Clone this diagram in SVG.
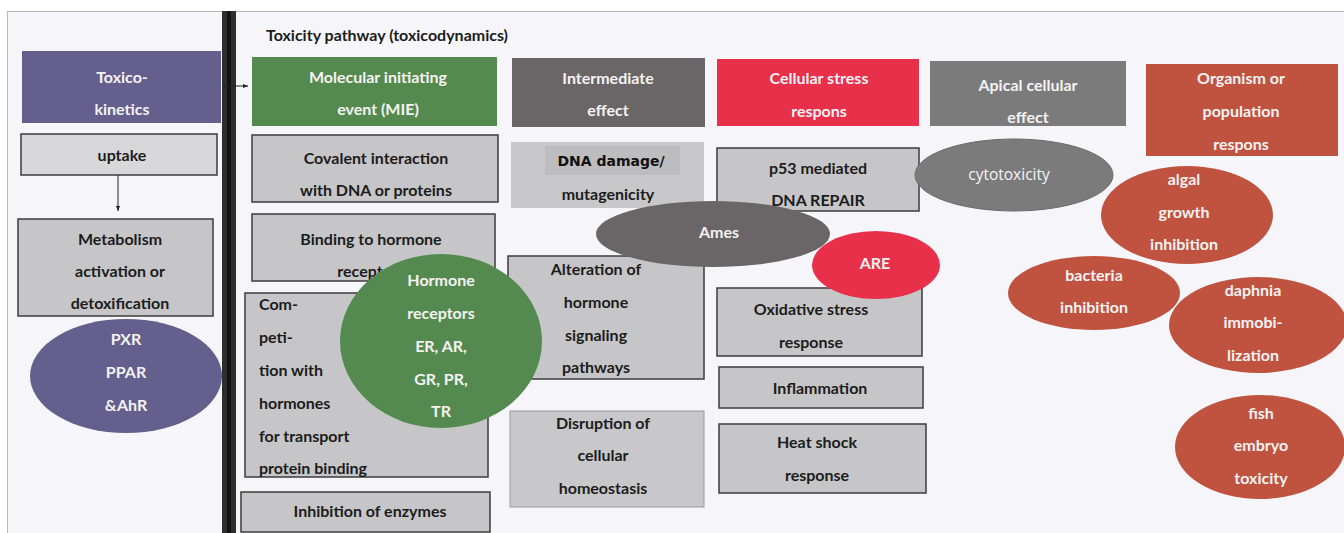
<svg xmlns="http://www.w3.org/2000/svg" width="1344" height="533" viewBox="0 0 1344 533">
  <style>
    .t { font-family: Lato, "Liberation Sans", sans-serif; font-weight: 700; font-size: 16px; text-anchor: middle; dominant-baseline: central; }
    .dk { fill: #1c1c1c; }
    .wt { fill: #f4f2f2; }
    .box { fill: #c6c6c8; stroke: #3c3c3c; stroke-width: 1.5; }
    .boxl { fill: #c8c8ca; stroke: #9a9a9a; stroke-width: 1; }
    .conn { stroke: #222; stroke-width: 1; fill: none; }
  </style>
  <defs>
    <marker id="arr" viewBox="0 0 10 10" refX="10" refY="5" markerWidth="5" markerHeight="5" orient="auto">
      <path d="M0,1 L10,5 L0,9 z" fill="#222"/>
    </marker>
  </defs>

  <!-- canvas -->
  <rect x="0" y="0" width="1344" height="533" fill="#ffffff"/>
  <rect x="7.5" y="11.5" width="1340" height="525" fill="#f6f6fa" stroke="#b8b8bc" stroke-width="1"/>

  <!-- divider between kinetics and dynamics -->
  <g id="divider">
    <rect x="222" y="11" width="14" height="522" fill="#2e2e2e"/>
    <rect x="227" y="11" width="4" height="522" fill="#141414"/>
  </g>

  <text class="t dk" x="387" y="34">Toxicity pathway (toxicodynamics)</text>

  <!-- toxicokinetics column -->
  <g id="toxicokinetics">
    <rect x="22" y="51" width="199" height="72" fill="#645f8c"/>
    <text class="t wt" x="122" y="76">Toxico-</text>
    <text class="t wt" x="122" y="108">kinetics</text>
  </g>
  <g id="uptake">
    <rect x="21" y="134" width="196" height="41" fill="#d8d8da" stroke="#3c3c3c" stroke-width="1.5"/>
    <text class="t dk" x="122" y="154">uptake</text>
  </g>
  <g id="metabolism">
    <rect class="box" x="18" y="219" width="195" height="97"/>
    <text class="t dk" x="120" y="238">Metabolism</text>
    <text class="t dk" x="120" y="270">activation or</text>
    <text class="t dk" x="120" y="302">detoxification</text>
  </g>
  <g id="receptors-pxr">
    <ellipse cx="126" cy="376" rx="96" ry="57" fill="#645f8c"/>
    <text class="t wt" x="126" y="338">PXR</text>
    <text class="t wt" x="126" y="371">PPAR</text>
    <text class="t wt" x="126" y="404">&amp;AhR</text>
  </g>

  <!-- connectors -->
  <g id="connectors">
    <line class="conn" x1="118" y1="175" x2="118" y2="211" marker-end="url(#arr)"/>
    <line class="conn" x1="222" y1="86" x2="248" y2="86" marker-end="url(#arr)"/>
  </g>

  <!-- molecular initiating events -->
  <g id="mie">
    <rect x="252" y="57" width="245" height="69" fill="#548a4f"/>
    <text class="t wt" x="378" y="76">Molecular initiating</text>
    <text class="t wt" x="378" y="108">event (MIE)</text>
  </g>
  <g id="covalent">
    <rect class="box" x="252" y="135" width="246" height="67"/>
    <text class="t dk" x="376" y="157">Covalent interaction</text>
    <text class="t dk" x="376" y="189">with DNA or proteins</text>
  </g>
  <g id="binding">
    <rect class="box" x="252" y="214" width="243" height="67"/>
    <text class="t dk" x="371" y="238">Binding to hormone</text>
    <text class="t dk" x="371" y="270">receptors</text>
  </g>
  <g id="competition">
    <rect class="box" x="245" y="293" width="243" height="184"/>
    <g class="t dk" style="text-anchor:start">
      <text x="259" y="303">Com-</text>
      <text x="259" y="336">peti-</text>
      <text x="259" y="369">tion with</text>
      <text x="259" y="402">hormones</text>
      <text x="259" y="435">for transport</text>
      <text x="259" y="467">protein binding</text>
    </g>
  </g>
  <g id="enzymes">
    <rect class="box" x="241" y="492" width="249" height="40"/>
    <text class="t dk" x="370" y="510">Inhibition of enzymes</text>
  </g>

  <!-- intermediate effects -->
  <g id="intermediate">
    <rect x="512" y="58" width="193" height="69" fill="#6a6566"/>
    <text class="t wt" x="608" y="77">Intermediate</text>
    <text class="t wt" x="608" y="109">effect</text>
  </g>
  <g id="dna-damage">
    <rect x="511" y="142" width="193" height="66" fill="#c8c8ca"/>
    <rect x="545" y="146" width="135" height="29" fill="#bdbdbf"/>
    <text x="611" y="161" style="font-family:'DejaVu Sans',sans-serif;font-weight:700;font-size:14px;text-anchor:middle;dominant-baseline:central;fill:#111">DNA damage/</text>
    <text class="t dk" x="608" y="193">mutagenicity</text>
  </g>
  <g id="alteration">
    <rect class="box" x="508" y="256" width="196" height="123"/>
    <text class="t dk" x="596" y="268">Alteration of</text>
    <text class="t dk" x="596" y="301">hormone</text>
    <text class="t dk" x="596" y="334">signaling</text>
    <text class="t dk" x="596" y="366">pathways</text>
  </g>
  <g id="disruption">
    <rect class="boxl" x="510" y="411" width="194" height="96"/>
    <text class="t dk" x="603" y="422">Disruption of</text>
    <text class="t dk" x="603" y="454">cellular</text>
    <text class="t dk" x="603" y="487">homeostasis</text>
  </g>
  <g id="hormone-receptors">
    <ellipse cx="441" cy="341" rx="101" ry="87" fill="#548a4f"/>
    <text class="t wt" x="441" y="279">Hormone</text>
    <text class="t wt" x="441" y="312">receptors</text>
    <text class="t wt" x="441" y="345">ER, AR,</text>
    <text class="t wt" x="441" y="378">GR, PR,</text>
    <text class="t wt" x="441" y="410">TR</text>
  </g>

  <!-- cellular stress responses -->
  <g id="stress">
    <rect x="717" y="59" width="202" height="67" fill="#e8304a"/>
    <text class="t wt" x="819" y="77">Cellular stress</text>
    <text class="t wt" x="819" y="110">respons</text>
  </g>
  <g id="p53">
    <rect class="box" x="717" y="148" width="202" height="63"/>
    <text class="t dk" x="818" y="167">p53 mediated</text>
    <text class="t dk" x="818" y="199">DNA REPAIR</text>
  </g>
  <g id="ames">
    <ellipse cx="713" cy="234" rx="117" ry="33" fill="#6a6566"/>
    <text class="t wt" x="719" y="231">Ames</text>
  </g>
  <g id="oxidative">
    <rect class="box" x="717" y="288" width="205" height="68"/>
    <text class="t dk" x="811" y="308">Oxidative stress</text>
    <text class="t dk" x="811" y="341">response</text>
  </g>
  <g id="are">
    <ellipse cx="876" cy="265" rx="64" ry="34" fill="#e8304a"/>
    <text class="t wt" x="875" y="262">ARE</text>
  </g>
  <g id="inflammation">
    <rect class="box" x="719" y="367" width="204" height="41"/>
    <text class="t dk" x="820" y="387">Inflammation</text>
  </g>
  <g id="heat-shock">
    <rect class="box" x="719" y="424" width="207" height="69"/>
    <text class="t dk" x="817" y="441">Heat shock</text>
    <text class="t dk" x="817" y="474">response</text>
  </g>

  <!-- apical cellular effects -->
  <g id="apical">
    <rect x="930" y="61" width="196" height="65" fill="#7b7b7b"/>
    <text class="t wt" x="1028" y="84">Apical cellular</text>
    <text class="t wt" x="1028" y="116">effect</text>
  </g>
  <g id="cytotoxicity">
    <ellipse cx="1014" cy="175" rx="99" ry="36" fill="#7b7b7b" stroke="#6a6a6a" stroke-width="1"/>
    <text x="1009" y="174" style="font-family:'Open Sans','Liberation Sans',sans-serif;font-size:15.5px;text-anchor:middle;dominant-baseline:central;fill:#f4f4f4">cytotoxicity</text>
  </g>

  <!-- organism / population responses -->
  <g id="organism">
    <rect x="1146" y="64" width="192" height="92" fill="#c05340"/>
    <text class="t wt" x="1241" y="77">Organism or</text>
    <text class="t wt" x="1241" y="110">population</text>
    <text class="t wt" x="1241" y="143">respons</text>
  </g>
  <g id="algal">
    <ellipse cx="1187" cy="215" rx="86" ry="49" fill="#c05340"/>
    <text class="t wt" x="1184" y="178">algal</text>
    <text class="t wt" x="1184" y="211">growth</text>
    <text class="t wt" x="1184" y="243">inhibition</text>
  </g>
  <g id="bacteria">
    <ellipse cx="1094" cy="293" rx="86" ry="37" fill="#c05340"/>
    <text class="t wt" x="1094" y="274">bacteria</text>
    <text class="t wt" x="1094" y="306">inhibition</text>
  </g>
  <g id="daphnia">
    <ellipse cx="1258" cy="325" rx="89" ry="48" fill="#c05340"/>
    <text class="t wt" x="1253" y="289">daphnia</text>
    <text class="t wt" x="1253" y="321">immobi-</text>
    <text class="t wt" x="1253" y="354">lization</text>
  </g>
  <g id="fish">
    <ellipse cx="1260" cy="447" rx="85" ry="52" fill="#c05340"/>
    <text class="t wt" x="1261" y="412">fish</text>
    <text class="t wt" x="1261" y="444">embryo</text>
    <text class="t wt" x="1261" y="477">toxicity</text>
  </g>
</svg>
